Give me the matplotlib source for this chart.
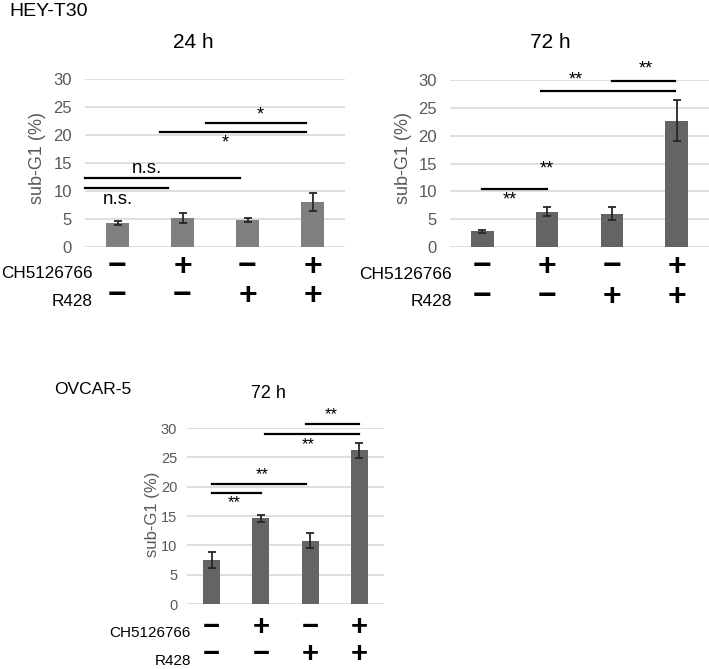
import matplotlib
matplotlib.use('Agg')
import matplotlib.pyplot as plt

plt.rcParams['font.family'] = ['Liberation Sans', 'DejaVu Sans']

# данные
ch_signs = ['\u2212', '+', '\u2212', '+']
r428_signs = ['\u2212', '\u2212', '+', '+']

hey24_mean = [4.3, 5.1, 4.8, 8.0]
hey24_err = [0.35, 0.9, 0.3, 1.6]
hey72_mean = [2.8, 6.3, 6.0, 22.7]
hey72_err = [0.2, 0.8, 1.1, 3.7]
ovcar_mean = [7.5, 14.6, 10.8, 26.2]
ovcar_err = [1.4, 0.6, 1.3, 1.3]

# линии значимости (x0, x1, y) и подписи (x, y, текст)
hey24_lines = [(-0.5, 0.77, 10.5), (-0.5, 1.88, 12.3), (0.65, 2.9, 20.5), (1.36, 2.9, 22.2)]
hey24_labels = [(0.0, 8.4, 'n.s.'), (0.45, 14.0, 'n.s.'), (1.65, 18.5, '*'), (2.2, 23.6, '*')]
hey72_lines = [(0.0, 1.0, 10.5), (0.91, 2.97, 28.0), (2.0, 2.97, 29.9)]
hey72_labels = [(0.43, 8.4, '**'), (1.0, 14.0, '**'), (1.45, 30.0, '**'), (2.53, 32.0, '**')]
ovcar_lines = [(0.0, 1.0, 18.9), (0.0, 1.91, 20.5), (1.08, 3.0, 29.0), (1.91, 2.99, 30.7)]
ovcar_labels = [(0.46, 17.2, '**'), (1.03, 22.1, '**'), (1.96, 27.2, '**'), (2.43, 32.2, '**')]

W, H = 709, 669
fig = plt.figure(figsize=(W / 100, H / 100), dpi=100)


def px_axes(left, right, top, bottom):
    return fig.add_axes([left / W, 1 - bottom / H, (right - left) / W, (bottom - top) / H])


def draw_panel(ax, mean, err, color, lines, labels, sizes, tick_pad, sym_y, lab_y, lab_x):
    tick_fs, note_fs, sym_fs, row_fs = sizes
    x = list(range(len(mean)))
    ax.bar(x, mean, width=0.35, color=color, zorder=2)
    ax.errorbar(x, mean, yerr=err, fmt='none', ecolor='#262626', elinewidth=1.3,
                capsize=3, capthick=1.3, zorder=3)
    ax.set_xlim(-0.5, 3.5)
    ax.set_ylim(0, 30)
    ax.set_yticks(range(0, 31, 5))
    ax.set_xticks([])
    ax.yaxis.grid(True, color='#d9d9d9', linewidth=1.2)
    ax.set_axisbelow(True)
    for s in ax.spines.values():
        s.set_visible(False)
    ax.tick_params(axis='y', length=0, pad=tick_pad, labelsize=tick_fs, labelcolor='#595959')
    for x0, x1, y in lines:
        ax.plot([x0, x1], [y, y], color='black', lw=1.6, clip_on=False, zorder=4)
    for xt, yt, t in labels:
        ax.text(xt, yt, t, ha='center', va='center',
                fontsize=note_fs + 0.5 if t == 'n.s.' else note_fs, clip_on=False)
    tr = ax.get_xaxis_transform()
    for i in x:
        ax.text(i, sym_y[0], ch_signs[i], transform=tr, ha='center', va='center',
                fontsize=sym_fs, fontweight='bold')
        ax.text(i, sym_y[1], r428_signs[i], transform=tr, ha='center', va='center',
                fontsize=sym_fs, fontweight='bold')
    ax.text(lab_x, lab_y[0], 'CH5126766', transform=ax.transAxes, ha='right', va='center',
            fontsize=row_fs)
    ax.text(lab_x, lab_y[1], 'R428', transform=ax.transAxes, ha='right', va='center',
            fontsize=row_fs)


ax1 = px_axes(85, 345, 79, 247)
draw_panel(ax1, hey24_mean, hey24_err, '#7f7f7f', hey24_lines, hey24_labels,
           (12, 13, 23, 12.3), 9.5, (-0.119, -0.292), (-0.155, -0.327), 0.03)

ax2 = px_axes(450, 709, 80, 247)
draw_panel(ax2, hey72_mean, hey72_err, '#646464', hey72_lines, hey72_labels,
           (12, 13, 23, 12.5), 9.5, (-0.119, -0.298), (-0.167, -0.329), 0.008)

ax3 = px_axes(187, 384, 428, 604)
draw_panel(ax3, ovcar_mean, ovcar_err, '#646464', ovcar_lines, ovcar_labels,
           (10.5, 12, 21, 11), 7, (-0.128, -0.285), (-0.165, -0.325), 0.02)

# заголовки
fig.text(9 / W, 1 - 12 / H, 'HEY-T30', ha='left', va='center', fontsize=14)
fig.text(193 / W, 1 - 43 / H, '24 h', ha='center', va='center', fontsize=15)
fig.text(550 / W, 1 - 43 / H, '72 h', ha='center', va='center', fontsize=15)
fig.text(54 / W, 1 - 390 / H, 'OVCAR-5', ha='left', va='center', fontsize=12.5)
fig.text(268 / W, 1 - 393 / H, '72 h', ha='center', va='center', fontsize=13)

# подписи осей
for xp, yp, fs in [(38, 158, 13), (403, 158, 13), (152, 514, 12)]:
    fig.text(xp / W, 1 - yp / H, 'sub-G1 (%)', rotation=90, ha='center', va='center',
             fontsize=fs, color='#595959')

plt.savefig('out.png', dpi=100)
plt.close(fig)
